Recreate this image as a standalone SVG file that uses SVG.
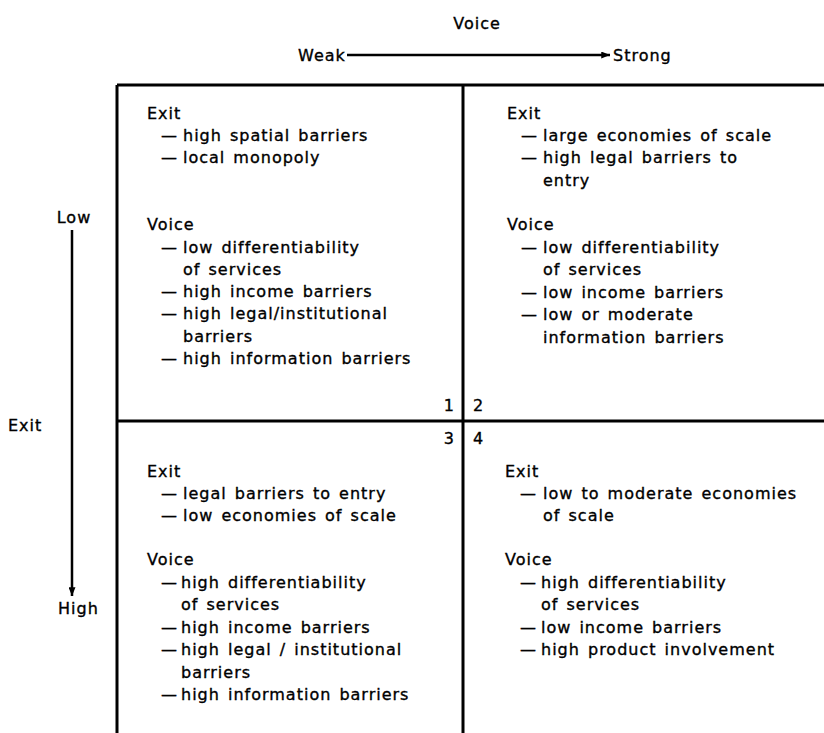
<svg xmlns="http://www.w3.org/2000/svg" width="824" height="733" viewBox="0 0 824 733">
<defs>
<marker id="ah" viewBox="0 0 10 8" refX="10" refY="4" markerWidth="10" markerHeight="7" markerUnits="userSpaceOnUse" orient="auto">
<path d="M0,0 L10,4 L0,8 Z" fill="#000"/>
</marker>
<style>
text{font-family:"DejaVu Sans","Liberation Sans",sans-serif;font-size:16px;fill:#000;stroke:#000;stroke-width:0.35;letter-spacing:1px;word-spacing:2px}
.frame{stroke:#000;stroke-width:3;fill:none}
.axis{stroke:#000;stroke-width:2.5;fill:none}
.mid{text-anchor:middle}
.end{text-anchor:end}
</style>
</defs>
<rect width="824" height="733" fill="#fff"/>
<g id="frame">
<line class="frame" x1="117" y1="85" x2="824" y2="85"/>
<line class="frame" x1="117" y1="85" x2="117" y2="733"/>
<line class="frame" x1="463" y1="85" x2="463" y2="733"/>
<line class="frame" x1="117" y1="421" x2="824" y2="421"/>
</g>
<g id="connectors">
<line class="axis" x1="347" y1="55" x2="610" y2="55" marker-end="url(#ah)"/>
<line class="axis" x1="72" y1="230" x2="72" y2="596" marker-end="url(#ah)"/>
</g>
<g id="axis-voice">
<text class="mid" x="477" y="29">Voice</text>
<text x="298" y="61">Weak</text>
<text x="613" y="61">Strong</text>
</g>
<g id="axis-exit">
<text class="mid" x="74" y="223">Low</text>
<text x="8" y="431">Exit</text>
<text x="58" y="614">High</text>
</g>
<g id="q1">
<text x="147" y="119">Exit</text>
<text x="161" y="141">—<tspan x="183">high spatial barriers</tspan></text>
<text x="161" y="163">—<tspan x="183">local monopoly</tspan></text>
<text x="147" y="230">Voice</text>
<text x="161" y="253">—<tspan x="183">low differentiability</tspan></text>
<text x="183" y="275">of services</text>
<text x="161" y="297">—<tspan x="183">high income barriers</tspan></text>
<text x="161" y="319">—<tspan x="183">high legal/institutional</tspan></text>
<text x="183" y="342">barriers</text>
<text x="161" y="364">—<tspan x="183">high information barriers</tspan></text>
<text class="end" x="455" y="411">1</text>
</g>
<g id="q2">
<text x="507" y="119">Exit</text>
<text x="521" y="141">—<tspan x="543">large economies of scale</tspan></text>
<text x="521" y="163">—<tspan x="543">high legal barriers to</tspan></text>
<text x="543" y="186">entry</text>
<text x="507" y="230">Voice</text>
<text x="521" y="253">—<tspan x="543">low differentiability</tspan></text>
<text x="543" y="275">of services</text>
<text x="521" y="298">—<tspan x="543">low income barriers</tspan></text>
<text x="521" y="320">—<tspan x="543">low or moderate</tspan></text>
<text x="543" y="343">information barriers</text>
<text x="473" y="411">2</text>
</g>
<g id="q3">
<text class="end" x="455" y="444">3</text>
<text x="147" y="477">Exit</text>
<text x="161" y="499">—<tspan x="183">legal barriers to entry</tspan></text>
<text x="161" y="521">—<tspan x="183">low economies of scale</tspan></text>
<text x="147" y="565">Voice</text>
<text x="161" y="588">—<tspan x="181">high differentiability</tspan></text>
<text x="181" y="610">of services</text>
<text x="161" y="633">—<tspan x="181">high income barriers</tspan></text>
<text x="161" y="655">—<tspan x="181">high legal / institutional</tspan></text>
<text x="181" y="678">barriers</text>
<text x="161" y="700">—<tspan x="181">high information barriers</tspan></text>
</g>
<g id="q4">
<text x="473" y="444">4</text>
<text x="505" y="477">Exit</text>
<text x="520" y="499">—<tspan x="543">low to moderate economies</tspan></text>
<text x="543" y="521">of scale</text>
<text x="505" y="565">Voice</text>
<text x="520" y="588">—<tspan x="541">high differentiability</tspan></text>
<text x="541" y="610">of services</text>
<text x="520" y="633">—<tspan x="541">low income barriers</tspan></text>
<text x="520" y="655">—<tspan x="541">high product involvement</tspan></text>
</g>
</svg>
